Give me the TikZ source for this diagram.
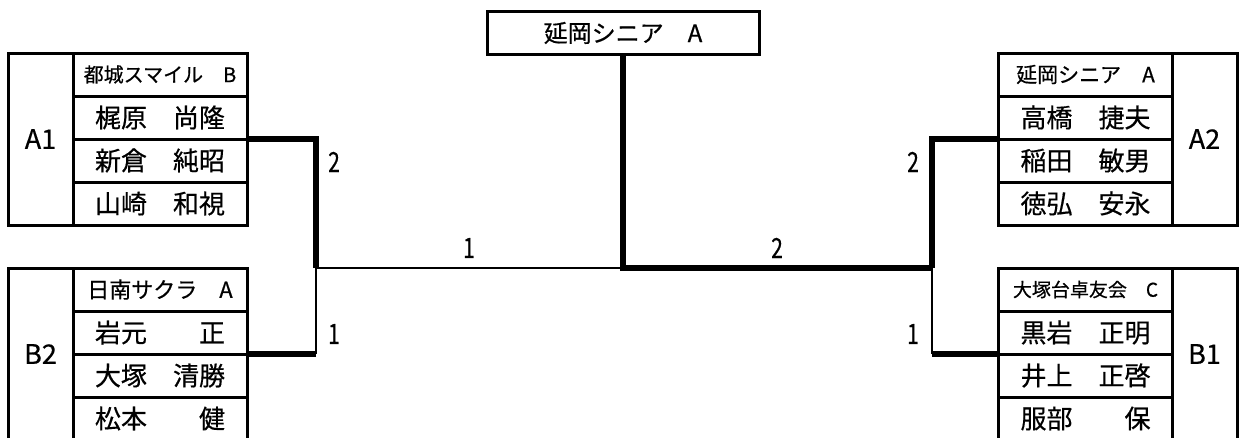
\documentclass[tikz,border=0pt]{standalone}
\usepackage{fontspec}
\setmainfont{Noto Sans CJK JP}[FakeBold=0.5]
\newfontfamily\numfont{Noto Sans CJK JP}[FakeStretch=0.75,FakeBold=0.5]
\begin{document}
\begin{tikzpicture}[x=1pt,y=-1pt,
  cell/.style={draw,line width=3pt,minimum width=174pt,minimum height=43pt,inner sep=0pt,outer sep=0pt,font=\fontsize{26}{26}\selectfont},
  team/.style={cell,font=\fontsize{20}{20}\selectfont},
  seed/.style={draw,line width=3pt,minimum width=65pt,minimum height=172pt,inner sep=0pt,outer sep=0pt,font=\fontsize{27}{27}\selectfont},
  win/.style={line width=6pt},
  lose/.style={line width=2pt},
  score/.style={font=\numfont\fontsize{28}{28}\selectfont}]
\clip(0,0)rectangle(1241,437);
%
\node[cell,minimum width=272pt,font=\fontsize{24}{24}\selectfont](top)at(623,33){延岡シニア　A};
%
\node[seed](a1)at(40.5,139){A1};
\node[team](a1t)at(160,74.5){都城スマイル　B};
\node[cell](a1p1)at(160,117.5){梶原　尚隆};
\node[cell](a1p2)at(160,160.5){新倉　純昭};
\node[cell](a1p3)at(160,203.5){山崎　和視};
%
\node[seed](b2)at(40.5,354){B2};
\node[team,font=\fontsize{22}{22}\selectfont](b2t)at(160,289.5){日南サクラ　A};
\node[cell](b2p1)at(160,332.5){岩元　　正};
\node[cell](b2p2)at(160,375.5){大塚　清勝};
\node[cell](b2p3)at(160,418.5){松本　　健};
%
\node[seed](a2)at(1204.5,139){A2};
\node[team,font=\fontsize{21}{21}\selectfont](a2t)at(1085.5,74.5){延岡シニア　A};
\node[cell](a2p1)at(1085.5,117.5){高橋　捷夫};
\node[cell](a2p2)at(1085.5,160.5){稲田　敏男};
\node[cell](a2p3)at(1085.5,203.5){徳弘　安永};
%
\node[seed](b1)at(1204.5,354){B1};
\node[team,font=\fontsize{19}{19}\selectfont](b1t)at(1085.5,289.5){大塚台卓友会　C};
\node[cell](b1p1)at(1085.5,332.5){黒岩　正明};
\node[cell](b1p2)at(1085.5,375.5){井上　正啓};
\node[cell](b1p3)at(1085.5,418.5){服部　　保};
%
\coordinate(lj)at(316,268);
\coordinate(cj)at(top.south|-lj);
\coordinate(rj)at(932,268);
%
\draw[win](a1p1.south east)-|(lj);
\draw[lose](lj)--(lj|-b2p1.south east);
\draw[win](lj|-b2p1.south east)--(b2p1.south east);
\draw[lose](lj)--(cj);
\draw[win](top.south)--(cj)--(rj);
\draw[win](a2p1.south west)-|(rj);
\draw[lose](rj)--(rj|-b1p1.south west);
\draw[win](rj|-b1p1.south west)--(b1p1.south west);
%
\node[score]at(334,162){2};
\node[score]at(334,334){1};
\node[score]at(469,248){1};
\node[score]at(777,248){2};
\node[score]at(913,162){2};
\node[score]at(913,334){1};
\end{tikzpicture}
\end{document}
